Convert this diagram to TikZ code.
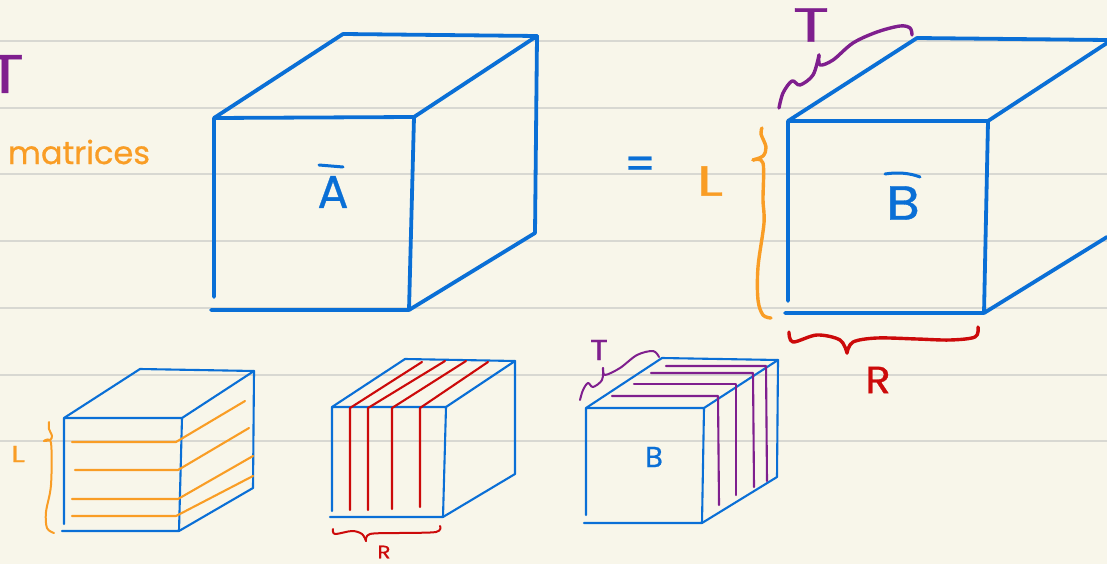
\documentclass[tikz,border=0pt]{standalone}
\usepackage{graphicx}
\usepackage{fontspec}
\setmainfont[FakeBold=0.7]{Poppins}
\definecolor{paper}{HTML}{F8F6EA}
\definecolor{rule}{HTML}{D8D8D2}
\definecolor{inkblue}{HTML}{0A6FD6}
\definecolor{inkorange}{HTML}{F99D25}
\definecolor{inkpurple}{HTML}{7F1F8E}
\definecolor{inkred}{HTML}{CC0A0A}
\tikzset{
  guide/.style={draw=rule,line width=1.5pt},
  pen/.style={line cap=round,line join=round},
  bigblue/.style={pen,draw=inkblue,line width=3.8pt},
  smallblue/.style={pen,draw=inkblue,line width=2.1pt},
  hatch/.style={pen,line width=2.1pt},
  bigbrace/.style={pen,line width=3.4pt},
  smallbrace/.style={pen,line width=2pt},
  hand/.style={inner sep=0pt,outer sep=0pt},
}
\newcommand{\handsize}[1]{\fontsize{#1}{#1}\selectfont}
\newcommand{\wide}[2]{\scalebox{#1}[1]{#2}}
\begin{document}
\begin{tikzpicture}[x=1pt,y=-1pt]
\useasboundingbox (0,0) rectangle (1107,564);
\fill[paper] (0,0) rectangle (1107,564);
\foreach \yy in {41,108,174,241,308,375,441} \draw[guide] (0,\yy) -- (1107,\yy);

% big cube A
\draw[bigblue] (214,297) -- (214,118) -- (414,117) -- (409,310) -- (211,310);
\draw[bigblue] (214,118) -- (343,34) -- (537,36) -- (414,117);
\draw[bigblue] (537,36) -- (535,233) -- (409,310);
\node[hand,text=inkblue] (labelA) at (333,192) {\handsize{46}A};
\draw[pen,draw=inkblue,line width=3pt] (319,165) -- (343,167);

% equals sign, left letters
\node[hand,text=inkblue] (equals) at (640,168) {\handsize{44}=};
\node[hand,text=inkpurple] (leftT) at (5,74) {\handsize{54}\wide{1.3}{T}};
\node[hand,text=inkorange,anchor=west] (matrices) at (8,152) {\handsize{32}matrices};

% big cube B
\draw[bigblue] (788,301) -- (788,121) -- (988,121) -- (984,313) -- (785,313);
\draw[bigblue] (788,121) -- (917,38) -- (1107,40);
\draw[bigblue] (988,121) -- (1107,43);
\draw[bigblue] (984,313) -- (1107,237);
\node[hand,text=inkblue] (labelB) at (903,203) {\handsize{48}\wide{1.15}{B}};
\draw[pen,draw=inkblue,line width=3pt] (885,174) .. controls (897,172) and (910,173) .. (920,177);
\node[hand,text=inkorange] (labelL) at (710,181) {\handsize{42}\wide{1.45}{L}};
\node[hand,text=inkpurple] (labelT) at (811,25) {\handsize{48}\wide{1.4}{T}};
\node[hand,text=inkred] (labelR) at (878,380) {\handsize{38}\wide{1.1}{R}};

% big braces
\draw[bigbrace,draw=inkorange] plot[smooth,tension=.55] coordinates {(762,128) (761,134) (766,147) (763,156) (753,160)};
\draw[bigbrace,draw=inkorange] plot[smooth,tension=.55] coordinates {(753,160) (763,163) (763,200) (764,223) (758,267) (758,300) (763,315) (771,318)};
\draw[bigbrace,draw=inkpurple] plot[smooth,tension=.55] coordinates {(779,108) (783,93) (792,81) (800,85) (813,75) (819,55)};
\draw[bigbrace,draw=inkpurple] plot[smooth,tension=.55] coordinates {(819,55) (820,65) (833,60) (853,43) (877,32) (900,26) (910,28) (912,35)};
\draw[bigbrace,draw=inkred] plot[smooth,tension=.55] coordinates {(789,332) (793,342) (817,335) (840,340) (847,353)};
\draw[bigbrace,draw=inkred] plot[smooth,tension=.55] coordinates {(847,353) (853,342) (877,338) (917,339) (950,340) (975,337) (978,327)};

% small cube 1
\draw[smallblue] (64,524) -- (64,418) -- (182,418) -- (179,531) -- (62,531);
\draw[smallblue] (64,418) -- (140,369) -- (254,371) -- (182,418);
\draw[smallblue] (254,371) -- (253,488) -- (179,531);
\draw[hatch,draw=inkorange] (72,442) -- (176,442) -- (245,401);
\draw[hatch,draw=inkorange] (75,470) -- (178,470) -- (249,428);
\draw[hatch,draw=inkorange] (72,499) -- (178,499) -- (253,456);
\draw[hatch,draw=inkorange] (72,516) -- (176,516) -- (253,476);
\draw[smallbrace,draw=inkorange] plot[smooth,tension=.55] coordinates {(49,422) (49,429) (52,436) (50,440) (44,441)};
\draw[smallbrace,draw=inkorange] plot[smooth,tension=.55] coordinates {(44,441) (51,443) (51,485) (46,512) (47,528) (54,533)};
\node[hand,text=inkorange] (smallL) at (18,454) {\handsize{23}\wide{1.4}{L}};

% small cube 2
\draw[smallblue] (332,511) -- (332,407) -- (446,407) -- (443,517) -- (330,517);
\draw[smallblue] (332,407) -- (405,359) -- (515,361) -- (446,407);
\draw[smallblue] (515,361) -- (515,474) -- (443,517);
\draw[hatch,draw=inkred] (350,510) -- (350,408) -- (422,362);
\draw[hatch,draw=inkred] (368,510) -- (368,408) -- (445,361);
\draw[hatch,draw=inkred] (392,509) -- (392,408) -- (466,361);
\draw[hatch,draw=inkred] (420,507) -- (420,408) -- (488,362);
\draw[smallbrace,draw=inkred] plot[smooth,tension=.55] coordinates {(333,529) (335,534) (352,531) (362,534) (366,541)};
\draw[smallbrace,draw=inkred] plot[smooth,tension=.55] coordinates {(366,541) (370,534) (399,533) (436,532) (440,526)};
\node[hand,text=inkred] (smallR) at (384,552) {\handsize{18}\wide{1.2}{R}};

% small cube 3
\draw[smallblue] (586,515) -- (586,408) -- (704,408) -- (702,523) -- (584,523);
\draw[smallblue] (586,408) -- (662,358) -- (778,360) -- (704,408);
\draw[smallblue] (778,360) -- (777,477) -- (702,523);
\draw[hatch,draw=inkpurple] (612,396) -- (718,396) -- (719,505);
\draw[hatch,draw=inkpurple] (634,384) -- (736,384) -- (736,495);
\draw[hatch,draw=inkpurple] (651,373) -- (753,373) -- (754,487);
\draw[hatch,draw=inkpurple] (666,366) -- (766,366) -- (767,481);
\draw[smallbrace,draw=inkpurple] plot[smooth,tension=.55] coordinates {(580,400) (583,390) (588,383) (593,387) (602,380) (603,368)};
\draw[smallbrace,draw=inkpurple] plot[smooth,tension=.55] coordinates {(603,368) (605,375) (620,368) (637,355) (653,351) (659,357)};
\node[hand,text=inkpurple] (smallT) at (599,350) {\handsize{29}\wide{1.15}{T}};
\node[hand,text=inkblue] (smallB) at (654,457) {\handsize{29}B};
\end{tikzpicture}
\end{document}
